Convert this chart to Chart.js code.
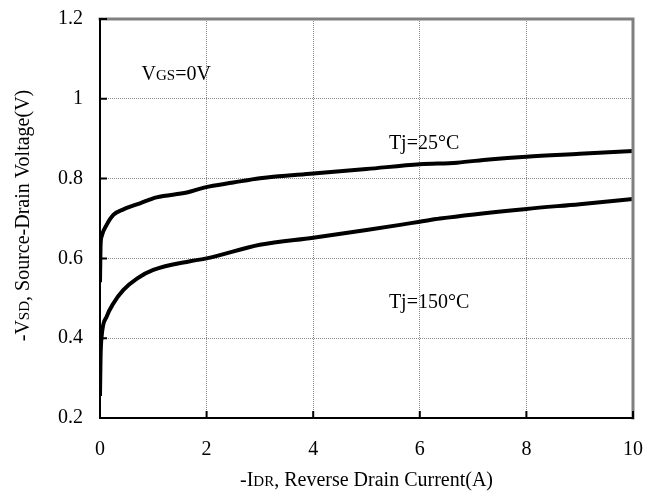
<!DOCTYPE html>
<html>
<head>
<meta charset="utf-8">
<script src="https://cdn.jsdelivr.net/npm/chart.js@4"></script>
<style>
  body { margin: 0; background: #fff; }
  canvas { display: block; }
</style>
</head>
<body>
<canvas id="vsdChart" width="656" height="497"></canvas>
<script>
// Tj = 25°C curve
const current25 = [0, 0.01, 0.03, 0.125, 0.25, 0.44, 0.75, 1.06, 1.63, 1.97, 2.5, 3, 4, 5, 6, 6.7, 7.3, 8, 9, 10]
const voltage25 = [0.54, 0.63, 0.655, 0.684, 0.709, 0.723, 0.738, 0.753, 0.765, 0.778, 0.79, 0.801, 0.813, 0.824, 0.836, 0.84, 0.848, 0.855, 0.862, 0.869]

// Tj = 150°C curve
const current150 = [0, 0.01, 0.03, 0.125, 0.25, 0.44, 0.7, 1.0, 1.69, 2.0, 3.0, 4.0, 5.0, 5.63, 6.0, 6.38, 8.0, 9.0, 10]
const voltage150 = [0.255, 0.35, 0.404, 0.454, 0.487, 0.521, 0.55, 0.571, 0.593, 0.6, 0.634, 0.652, 0.671, 0.684, 0.692, 0.7, 0.724, 0.736, 0.749]

const xTicks = [0, 2, 4, 6, 8, 10]
const yTicks = [0.2, 0.4, 0.6, 0.8, 1, 1.2]

const FONT = "'Liberation Serif', 'Times New Roman', serif"

const toPoints = (xs, ys) => xs.map((x, i) => ({ x: x, y: ys[i] }))

// draws text made of runs of [text, size]
function drawRuns(ctx, runs, x, y, align) {
  let total = 0
  runs.forEach(r => { ctx.font = r[1] + 'px ' + FONT; total += ctx.measureText(r[0]).width })
  let cx = align === 'center' ? x - total / 2 : x
  runs.forEach(r => {
    ctx.font = r[1] + 'px ' + FONT
    ctx.fillText(r[0], cx, y)
    cx += ctx.measureText(r[0]).width
  })
}

// keep label overflow from pushing the plot area around
function noOverflow(s) {
  s.paddingTop = 0; s.paddingBottom = 0; s.paddingLeft = 0; s.paddingRight = 0
}

const framePlugin = {
  id: 'frame',
  afterDatasetsDraw(chart) {
    const { ctx, chartArea: a, scales: { x, y } } = chart
    ctx.save()

    // frame: gray top/right, black left/bottom
    ctx.lineCap = 'square'
    ctx.strokeStyle = '#808080'
    ctx.lineWidth = 3
    ctx.beginPath()
    ctx.moveTo(a.left, a.top); ctx.lineTo(a.right, a.top); ctx.lineTo(a.right, a.bottom)
    ctx.stroke()
    ctx.strokeStyle = '#000'
    ctx.lineWidth = 2
    ctx.beginPath()
    ctx.moveTo(a.left, a.top); ctx.lineTo(a.left, a.bottom); ctx.lineTo(a.right, a.bottom)
    ctx.stroke()

    // inward tick marks
    ctx.lineWidth = 2
    ctx.beginPath()
    yTicks.forEach(v => {
      const py = y.getPixelForValue(v)
      ctx.moveTo(a.left, py); ctx.lineTo(a.left + 6, py)
    })
    xTicks.forEach(v => {
      const px = x.getPixelForValue(v)
      ctx.moveTo(px, a.bottom); ctx.lineTo(px, a.bottom - 6)
    })
    ctx.stroke()

    // annotations
    ctx.fillStyle = '#000'
    ctx.textBaseline = 'alphabetic'
    drawRuns(ctx, [['V', 20], ['GS', 15], ['=0V', 20]], x.getPixelForValue(0.78), y.getPixelForValue(1.047), 'left')
    drawRuns(ctx, [['Tj=25°C', 20]], x.getPixelForValue(5.42), y.getPixelForValue(0.874), 'left')
    drawRuns(ctx, [['Tj=150°C', 20]], x.getPixelForValue(5.42), y.getPixelForValue(0.476), 'left')

    // axis titles
    drawRuns(ctx, [['-I', 20], ['DR', 15], [', Reverse Drain Current(A)', 20]], (a.left + a.right) / 2, 486, 'center')
    ctx.translate(29, (a.top + a.bottom) / 2 - 3)
    ctx.rotate(-Math.PI / 2)
    drawRuns(ctx, [['-V', 20], ['SD', 15], [', Source-Drain Voltage(V)', 20]], 0, 0, 'center')
    ctx.restore()
  }
}

new Chart(document.getElementById('vsdChart'), {
  type: 'line',
  data: {
    datasets: [
      { label: 'Tj=25°C', data: toPoints(current25, voltage25) },
      { label: 'Tj=150°C', data: toPoints(current150, voltage150) }
    ]
  },
  options: {
    responsive: false,
    animation: false,
    layout: { padding: { top: 19, right: 23, left: 0, bottom: 0 } },
    elements: {
      line: { borderColor: '#000', borderWidth: 4, cubicInterpolationMode: 'monotone', fill: false },
      point: { radius: 0, hoverRadius: 0 }
    },
    plugins: { legend: { display: false }, tooltip: { enabled: false } },
    scales: {
      x: {
        type: 'linear',
        min: 0, max: 10,
        afterBuildTicks: s => { s.ticks = xTicks.map(v => ({ value: v })) },
        afterFit: s => { s.height = 79; noOverflow(s) },
        ticks: { color: '#000', padding: 20, font: { family: FONT, size: 20 } },
        grid: { color: '#8a8a8a', lineWidth: 1, drawTicks: false },
        border: { display: false, dash: [1, 1] }
      },
      y: {
        type: 'linear',
        min: 0.2, max: 1.2,
        afterBuildTicks: s => { s.ticks = yTicks.map(v => ({ value: v })) },
        afterFit: s => { s.width = 100; noOverflow(s) },
        ticks: { color: '#000', padding: 17, font: { family: FONT, size: 20 }, callback: v => String(v) },
        grid: { color: '#8a8a8a', lineWidth: 1, drawTicks: false },
        border: { display: false, dash: [1, 1] }
      }
    }
  },
  plugins: [framePlugin]
})
</script>
</body>
</html>
